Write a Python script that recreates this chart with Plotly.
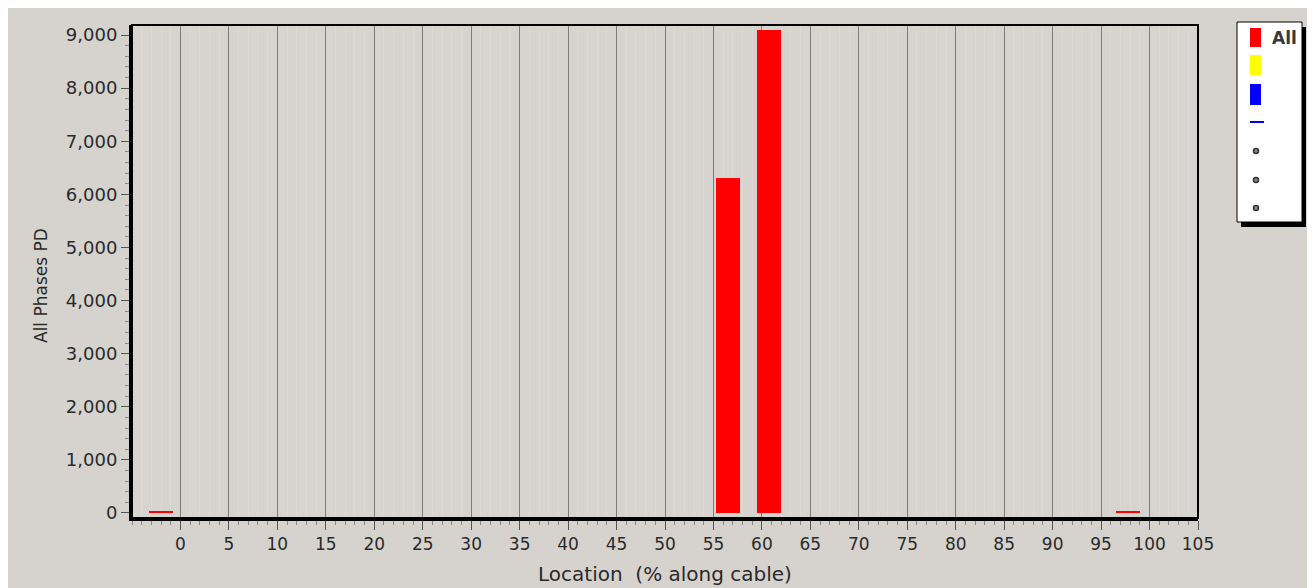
import plotly.graph_objects as go

# ---- data ----
locations = [-2.0, 56.5, 60.75, 97.8]          # % along cable (bar centres)
pd_values = [40, 6300, 9100, 40]               # All phases PD
bar_widths = [2.5, 2.4, 2.5, 2.5]
x_tick_vals = list(range(0, 106, 5))
y_tick_vals = list(range(0, 9001, 1000))

# page has an 8px body margin; work in page pixels and convert
OFF = 8
W, H = 1315 - OFF, 588 - OFF
PL, PR, PT, PB = 132, 1198, 25, 518          # plot area in page pixels
L, R, T, B = PL - OFF, W - (PR - OFF), PT - OFF, H - (PB - OFF)
PW, PH = PR - PL, PB - PT

def px(x):
    return (x - PL) / PW

def py(y):
    return (PB - y) / PH

fig = go.Figure()
fig.add_trace(go.Bar(x=locations, y=pd_values, width=bar_widths,
                     marker=dict(color="#ff0000", line=dict(width=0)),
                     name="All", showlegend=False))

font = "DejaVu Sans, Verdana, sans-serif"
fig.update_layout(
    width=W, height=H,
    margin=dict(l=L, r=R, t=T, b=B, autoexpand=False),
    paper_bgcolor="#d6d3ce",
    plot_bgcolor="#d7d4cf",
    font=dict(family=font, size=17, color="#2a2a2a"),
    bargap=0,
    xaxis=dict(
        range=[-5, 105], tickvals=x_tick_vals, ticktext=[str(v) for v in x_tick_vals],
        showgrid=True, gridcolor="#7c7c7c", gridwidth=1,
        zeroline=False, showline=True, linecolor="#000000", linewidth=3,
        ticks="outside", ticklen=9, tickcolor="#555555", tickwidth=1,
        minor=dict(dtick=1, tick0=0, ticks="outside", ticklen=4, tickcolor="#888888",
                   showgrid=True, gridcolor="#dcd9d4", gridwidth=1),
        title=dict(text="Location  (% along cable)", font=dict(size=20, family=font, color="#2a2a2a"),
                   standoff=14),
        tickfont=dict(size=17, family=font, color="#2a2a2a"),
        automargin=False,
    ),
    yaxis=dict(
        range=[-95, 9190], tickvals=y_tick_vals, tickformat=",d",
        showgrid=False, zeroline=False, showline=True, linecolor="#000000", linewidth=3,
        ticks="outside", ticklen=8, tickcolor="#555555", tickwidth=1,
        minor=dict(dtick=200, tick0=0, ticks="outside", ticklen=4, tickcolor="#888888"),
        tickfont=dict(size=18, family=font, color="#2a2a2a"),
        automargin=False,
    ),
)

shapes = []
shapes.append(dict(type="rect", xref="paper", yref="paper", x0=0, x1=1, y0=0, y1=1,
                   line=dict(color="#000000", width=2), fillcolor="rgba(0,0,0,0)", layer="above"))
# legend box with shadow
shapes.append(dict(type="rect", xref="paper", yref="paper", x0=px(1241), x1=px(1306), y0=py(227), y1=py(27),
                   line=dict(width=0), fillcolor="#000000"))
shapes.append(dict(type="rect", xref="paper", yref="paper", x0=px(1237), x1=px(1302), y0=py(222), y1=py(22),
                   line=dict(color="#000000", width=1), fillcolor="#ffffff"))
for (y0, y1, c) in [(28, 47, "#ff0000"), (55, 75, "#ffff00"), (84, 105, "#0000ff")]:
    shapes.append(dict(type="rect", xref="paper", yref="paper", x0=px(1250), x1=px(1261),
                       y0=py(y1), y1=py(y0), line=dict(width=0), fillcolor=c))
shapes.append(dict(type="line", xref="paper", yref="paper", x0=px(1250), x1=px(1264),
                   y0=py(122), y1=py(122), line=dict(color="#0000ff", width=2)))
for yc in [151, 180, 208]:
    shapes.append(dict(type="circle", xref="paper", yref="paper", x0=px(1253.5), x1=px(1258.5),
                       y0=py(yc + 2.5), y1=py(yc - 2.5), line=dict(color="#333333", width=1.5),
                       fillcolor="#888888"))
fig.update_layout(shapes=shapes)

fig.add_annotation(x=px(1270), y=py(38), xref="paper", yref="paper", text="<b>All</b>",
                   showarrow=False, xanchor="left", yanchor="middle",
                   font=dict(size=17, family=font, color="#3a3a3a"))
# y-axis title
fig.add_annotation(x=px(41), y=py(286), xref="paper", yref="paper", text="All Phases PD",
                   textangle=-90, showarrow=False, xanchor="center", yanchor="middle",
                   font=dict(size=17, family=font, color="#2a2a2a"))

fig.write_html("out.html")
